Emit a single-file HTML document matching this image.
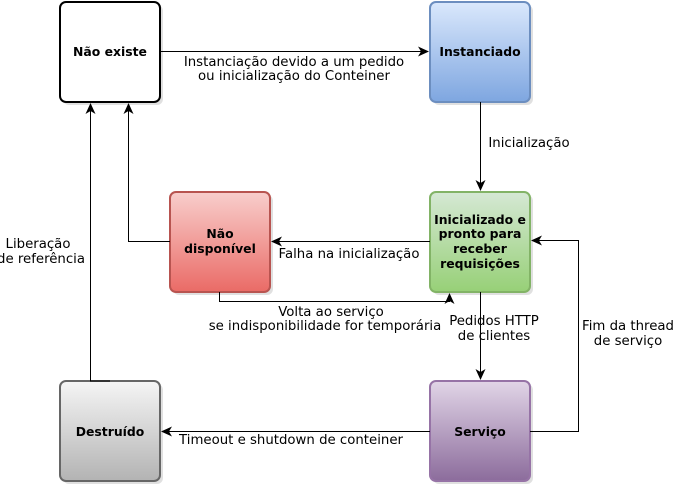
<!DOCTYPE html>
<html><head><meta charset="utf-8"><style>
html,body{margin:0;padding:0;background:#fff;}
svg{display:block;}
</style></head><body>
<svg width="675" height="488" viewBox="0 0 675 488" xmlns="http://www.w3.org/2000/svg" font-family="DejaVu Sans, Liberation Sans, sans-serif">
<defs>
<linearGradient id="gb" x1="0" y1="0" x2="0" y2="1"><stop offset="0" stop-color="#dae8fc"/><stop offset="1" stop-color="#7ea6e0"/></linearGradient>
<linearGradient id="gg" x1="0" y1="0" x2="0" y2="1"><stop offset="0" stop-color="#d5e8d4"/><stop offset="1" stop-color="#97d077"/></linearGradient>
<linearGradient id="gr" x1="0" y1="0" x2="0" y2="1"><stop offset="0" stop-color="#f8cecc"/><stop offset="1" stop-color="#ea6b66"/></linearGradient>
<linearGradient id="gs" x1="0" y1="0" x2="0" y2="1"><stop offset="0" stop-color="#f5f5f5"/><stop offset="1" stop-color="#b3b3b3"/></linearGradient>
<linearGradient id="gp" x1="0" y1="0" x2="0" y2="1"><stop offset="0" stop-color="#e1d5e7"/><stop offset="1" stop-color="#8c6c9c"/></linearGradient>
<marker id="a" markerWidth="12" markerHeight="12" refX="10" refY="5" orient="auto" markerUnits="userSpaceOnUse"><path d="M0,0 L11,5 L0,10 L3,5 Z" fill="#000"/></marker>
</defs>
<g fill="#ccc" opacity="0.6">
<rect x="63" y="5" width="100" height="100" rx="6"/><rect x="433" y="5" width="100" height="100" rx="6"/>
<rect x="433" y="195" width="100" height="100" rx="6"/><rect x="173" y="195" width="100" height="100" rx="6"/>
<rect x="63" y="384" width="100" height="100" rx="6"/><rect x="433" y="384" width="100" height="100" rx="6"/>
</g>
<rect x="60" y="2" width="100" height="100" rx="6" fill="#fff" stroke="#000" stroke-width="2"/>
<rect x="430" y="2" width="100" height="100" rx="6" fill="url(#gb)" stroke="#6c8ebf" stroke-width="2"/>
<rect x="430" y="192" width="100" height="100" rx="6" fill="url(#gg)" stroke="#82b366" stroke-width="2"/>
<rect x="170" y="192" width="100" height="100" rx="6" fill="url(#gr)" stroke="#b85450" stroke-width="2"/>
<rect x="60" y="381" width="100" height="100" rx="6" fill="url(#gs)" stroke="#666" stroke-width="2"/>
<rect x="430" y="381" width="100" height="100" rx="6" fill="url(#gp)" stroke="#9673a6" stroke-width="2"/>
<g fill="none" stroke="#000" stroke-width="1">
<path d="M160,51.5 H428" marker-end="url(#a)"/>
<path d="M480.5,102 V190" marker-end="url(#a)"/>
<path d="M430,241.5 H272" marker-end="url(#a)"/>
<path d="M170,241.5 H128.5 V104" marker-end="url(#a)"/>
<path d="M219.5,292 V301.5 H449.5 V294" marker-end="url(#a)"/>
<path d="M480.5,292 V379" marker-end="url(#a)"/>
<path d="M530,431.5 H578.5 V240.5 H532" marker-end="url(#a)"/>
<path d="M430,431.5 H162" marker-end="url(#a)"/>
<path d="M110,381 H90.5 V104" marker-end="url(#a)"/>
</g>
<g text-anchor="middle" font-weight="bold" font-size="12.4" fill="#000">
<text x="110" y="56">Não existe</text>
<text x="480" y="56">Instanciado</text>
<text x="480" y="224">Inicializado e</text>
<text x="480" y="238">pronto para</text>
<text x="480" y="253">receber</text>
<text x="480" y="268">requisições</text>
<text x="220" y="238">Não</text>
<text x="220" y="253">disponível</text>
<text x="110" y="436">Destruído</text>
<text x="480" y="436">Serviço</text>
</g>
<g text-anchor="middle" font-size="13.3" fill="#000">
<text x="294" y="66">Instanciação devido a um pedido</text>
<text x="294" y="80">ou inicialização do Conteiner</text>
<text x="529" y="147">Inicialização</text>
<text x="349" y="258">Falha na inicialização</text>
<text x="331" y="316">Volta ao serviço</text>
<text x="325" y="330">se indisponibilidade for temporária</text>
<text x="494" y="325">Pedidos HTTP</text>
<text x="494" y="340">de clientes</text>
<text x="628" y="330">Fim da thread</text>
<text x="628" y="345">de serviço</text>
<text x="291" y="444">Timeout e shutdown de conteiner</text>
<text x="38" y="248">Liberação</text>
<text x="41" y="263">de referência</text>
</g>
</svg>
</body></html>
